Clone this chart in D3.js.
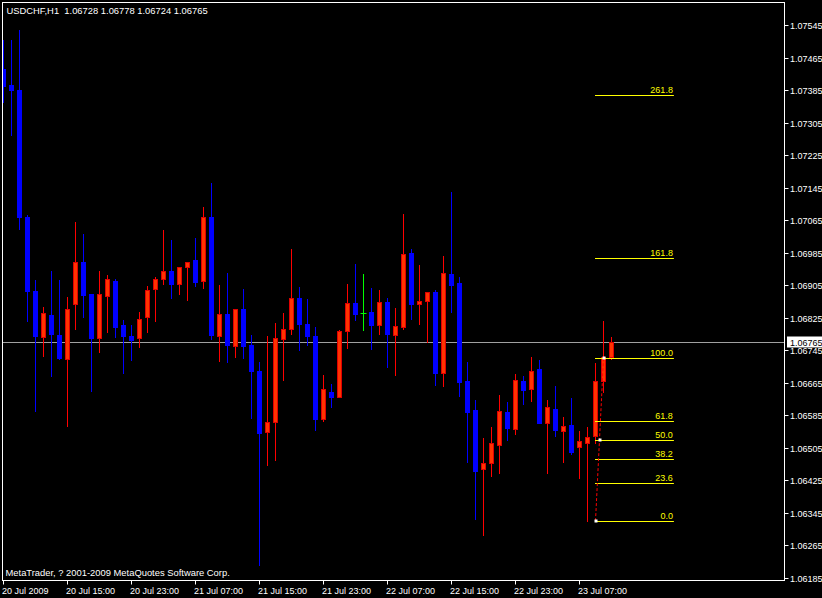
<!DOCTYPE html>
<html><head><meta charset="utf-8">
<script src="https://cdn.jsdelivr.net/npm/d3@7"></script>
<style>
html,body{margin:0;padding:0;background:#000;}
svg{display:block;}
text{font-family:"Liberation Sans",Arial,sans-serif;font-size:9px;white-space:pre;}
</style></head>
<body>
<script>
// ---- data (USDCHF, H1) ----
const symbolTitle = "USDCHF,H1  1.06728 1.06778 1.06724 1.06765";
const copyright = "MetaTrader, ? 2001-2009 MetaQuotes Software Corp.";
const open = [1.07437,1.07397,1.07385,1.07073,1.06891,1.06778,1.06832,1.06783,1.06724,1.06860,
1.06962,1.06883,1.06776,1.06879,1.06915,1.06807,1.06780,1.06776,1.06826,1.06895,
1.06920,1.06940,1.06909,1.06949,1.06967,1.06916,1.07073,1.06781,1.06834,1.06756,
1.06847,1.06759,1.06694,1.06545,1.06569,1.06774,1.06798,1.06874,1.06810,1.06781,
1.06577,1.06643,1.06631,1.06793,1.06861,1.06836,1.06839,1.06808,1.06864,1.06783,
1.06803,1.06984,1.06860,1.06867,1.06888,1.06690,1.06933,1.06911,1.06670,1.06598,
1.06454,1.06469,1.06513,1.06593,1.06552,1.06670,1.06651,1.06699,1.06567,1.06601,
1.06547,1.06561,1.06508,1.06518,1.06533,1.06670,1.06728];
const high = [1.07508,1.07508,1.07533,1.07078,1.06918,1.06852,1.06940,1.06918,1.06876,1.07061,
1.07031,1.06883,1.06940,1.06930,1.06920,1.06820,1.06806,1.06839,1.06903,1.06925,
1.07041,1.07016,1.06950,1.06962,1.07021,1.07097,1.07156,1.06906,1.06935,1.06847,
1.06896,1.06783,1.06717,1.06781,1.06812,1.06837,1.06994,1.06901,1.06871,1.06802,
1.06684,1.06662,1.06795,1.06908,1.06957,1.06933,1.06899,1.06893,1.06874,1.06849,
1.07080,1.06994,1.06955,1.06888,1.06893,1.06977,1.07134,1.06925,1.06717,1.06623,
1.06530,1.06556,1.06635,1.06618,1.06687,1.06682,1.06729,1.06721,1.06623,1.06658,
1.06581,1.06628,1.06547,1.06556,1.06714,1.06817,1.06778];
const low = [1.07356,1.07275,1.07043,1.06817,1.06596,1.06732,1.06683,1.06724,1.06560,1.06798,
1.06828,1.06645,1.06742,1.06791,1.06778,1.06688,1.06722,1.06754,1.06791,1.06818,
1.06909,1.06874,1.06884,1.06869,1.06904,1.06897,1.06774,1.06719,1.06717,1.06729,
1.06727,1.06579,1.06217,1.06463,1.06474,1.06673,1.06786,1.06746,1.06759,1.06549,
1.06572,1.06606,1.06631,1.06751,1.06820,1.06796,1.06749,1.06786,1.06705,1.06685,
1.06798,1.06823,1.06810,1.06766,1.06660,1.06658,1.06840,1.06633,1.06471,1.06331,
1.06291,1.06437,1.06443,1.06524,1.06540,1.06614,1.06621,1.06566,1.06444,1.06535,
1.06471,1.06491,1.06432,1.06324,1.06516,1.06643,1.06724];
const close = [1.07396,1.07385,1.07074,1.06891,1.06781,1.06836,1.06786,1.06727,1.06847,1.06962,
1.06881,1.06776,1.06883,1.06920,1.06803,1.06781,1.06771,1.06821,1.06893,1.06920,
1.06940,1.06909,1.06950,1.06962,1.06914,1.07073,1.06783,1.06834,1.06759,1.06847,
1.06756,1.06695,1.06542,1.06569,1.06775,1.06797,1.06874,1.06810,1.06781,1.06576,
1.06650,1.06630,1.06792,1.06861,1.06835,1.06836,1.06806,1.06864,1.06786,1.06805,
1.06982,1.06860,1.06866,1.06888,1.06690,1.06935,1.06906,1.06668,1.06594,1.06449,
1.06467,1.06517,1.06596,1.06555,1.06672,1.06648,1.06694,1.06567,1.06606,1.06550,
1.06559,1.06496,1.06522,1.06531,1.06669,1.06729,1.06765];
const bidPrice = 1.06765;
const priceTicks = [1.06185,1.06265,1.06345,1.06425,1.06505,1.06585,1.06665,1.06745,1.06825,
1.06905,1.06985,1.07065,1.07145,1.07225,1.07305,1.07385,1.07465,1.07545];
const timeTickIndex = [0,8,16,24,32,40,48,56,64,72];
const timeTickLabels = ["20 Jul 2009","20 Jul 15:00","20 Jul 23:00","21 Jul 07:00","21 Jul 15:00",
"21 Jul 23:00","22 Jul 07:00","22 Jul 15:00","22 Jul 23:00","23 Jul 07:00"];
// Fibonacci retracement
const fibLevels = [0, 23.6, 38.2, 50, 61.8, 100, 161.8, 261.8];
const fibLabels = ["0.0","23.6","38.2","50.0","61.8","100.0","161.8","261.8"];
const fibLowPrice = 1.06325, fibLowIndex = 74;
const fibHighPrice = 1.06725, fibHighIndex = 75;
const fibEndIndex = 83.8;

// ---- drawing ----
const W = 822, H = 598;
const svg = d3.select("body").append("svg").attr("width", W).attr("height", H)
  .style("background", "#000");

const plot = {left: 2.5, top: 2.5, right: 784.5, bottom: 580.5};
const x = d3.scaleLinear().domain([0, open.length - 1]).range([3.5, 3.5 + 8 * (open.length - 1)]);
const y = d3.scaleLinear().domain([1.06185, 1.07545]).range([578, 25]);

svg.append("defs").append("clipPath").attr("id", "clip")
  .append("rect").attr("x", plot.left + 0.5).attr("y", plot.top + 0.5)
  .attr("width", plot.right - plot.left - 1).attr("height", plot.bottom - plot.top - 1);

const g = svg.append("g").attr("clip-path", "url(#clip)");

// bid line
g.append("line").attr("x1", plot.left).attr("x2", plot.right)
  .attr("y1", Math.round(y(bidPrice)) + 0.5).attr("y2", Math.round(y(bidPrice)) + 0.5)
  .attr("stroke", "#a0a0a0").attr("stroke-width", 1);

const bars = d3.range(open.length).map(i => ({i, o: open[i], h: high[i], l: low[i], c: close[i]}));
const colorOf = d => d.c > d.o ? "#ff0000" : (d.c < d.o ? "#0000ff" : "#00ff00");

// wicks
g.selectAll("line.wick").data(bars).join("line").attr("class", "wick")
  .attr("x1", d => x(d.i)).attr("x2", d => x(d.i))
  .attr("y1", d => Math.round(y(d.h))).attr("y2", d => Math.round(y(d.l)) + 1)
  .attr("stroke", colorOf).attr("stroke-width", 1);

// bodies
g.selectAll("rect.body").data(bars.filter(d => d.c !== d.o)).join("rect").attr("class", "body")
  .each(function(d) {
    const top = Math.round(y(Math.max(d.o, d.c)));
    const bot = Math.round(y(Math.min(d.o, d.c)));
    const s = d3.select(this);
    if (d.c > d.o) {
      s.attr("x", x(d.i) - 2).attr("width", 4)
       .attr("y", top + 0.5).attr("height", Math.max(bot - top, 1))
       .attr("fill", "#ff3300").attr("stroke", "#e00000").attr("stroke-width", 1);
    } else {
      s.attr("x", x(d.i) - 2.5).attr("width", 5)
       .attr("y", top).attr("height", Math.max(bot - top + 1, 1))
       .attr("fill", "#0000ff");
    }
  });

// doji crossbars
g.selectAll("line.doji").data(bars.filter(d => d.c === d.o)).join("line").attr("class", "doji")
  .attr("x1", d => x(d.i) - 3).attr("x2", d => x(d.i) + 3)
  .attr("y1", d => Math.round(y(d.o)) + 0.5).attr("y2", d => Math.round(y(d.o)) + 0.5)
  .attr("stroke", "#00ff00").attr("stroke-width", 1);

// Fibonacci levels
const fibPrice = lv => fibLowPrice + lv / 100 * (fibHighPrice - fibLowPrice);
const fibG = g.append("g");
fibLevels.forEach((lv, j) => {
  const yy = Math.round(y(fibPrice(lv))) + 0.5;
  fibG.append("line").attr("x1", x(fibLowIndex) - 0.5).attr("x2", x(fibEndIndex))
    .attr("y1", yy).attr("y2", yy).attr("stroke", "#ffff00").attr("stroke-width", 1);
  fibG.append("text").attr("x", x(fibEndIndex) - 1).attr("y", yy - 2.5)
    .attr("text-anchor", "end").attr("fill", "#ffff00").text(fibLabels[j]);
});
// trend (dashed) line of the fib
fibG.append("line")
  .attr("x1", x(fibLowIndex)).attr("y1", y(fibLowPrice))
  .attr("x2", x(fibHighIndex)).attr("y2", y(fibHighPrice))
  .attr("stroke", "#ff0000").attr("stroke-width", 1).attr("stroke-dasharray", "3,2");
const anchors = [[fibLowIndex, fibLowPrice], [(fibLowIndex + fibHighIndex) / 2, (fibLowPrice + fibHighPrice) / 2], [fibHighIndex, fibHighPrice]];
fibG.selectAll("rect.anchor").data(anchors).join("rect").attr("class", "anchor")
  .attr("x", d => Math.round(x(d[0])) - 1.5).attr("y", d => Math.round(y(d[1])) - 1.5)
  .attr("width", 3).attr("height", 3).attr("fill", "#ffffff");

// frame
svg.append("rect").attr("x", plot.left).attr("y", plot.top)
  .attr("width", plot.right - plot.left).attr("height", plot.bottom - plot.top)
  .attr("fill", "none").attr("stroke", "#ffffff").attr("stroke-width", 1);

// price axis
const pa = svg.append("g");
priceTicks.forEach(p => {
  const yy = Math.round(y(p)) + 0.5;
  pa.append("line").attr("x1", plot.right).attr("x2", plot.right + 4).attr("y1", yy).attr("y2", yy)
    .attr("stroke", "#ffffff");
  pa.append("text").attr("x", 790).attr("y", yy + 3).attr("fill", "#ffffff").text(d3.format(".5f")(p));
});
// bid label
const by = Math.round(y(bidPrice)) + 0.5;
pa.append("rect").attr("x", 787).attr("y", by - 6).attr("width", 36).attr("height", 11).attr("fill", "#ffffff");
pa.append("text").attr("x", 790).attr("y", by + 3).attr("fill", "#000000").text(d3.format(".5f")(bidPrice));

// time axis
const ta = svg.append("g");
timeTickIndex.forEach((ix, j) => {
  const xx = Math.round(x(ix) - 0.5) + 0.5;
  ta.append("line").attr("x1", xx).attr("x2", xx).attr("y1", plot.bottom).attr("y2", plot.bottom + 4)
    .attr("stroke", "#ffffff");
  ta.append("text").attr("x", xx - 1.5).attr("y", 593.5).attr("fill", "#ffffff").text(timeTickLabels[j]);
});

// texts
svg.append("text").attr("x", 6.5).attr("y", 14).attr("fill", "#ffffff").style("font-size", "9.4px").text(symbolTitle);
svg.append("text").attr("x", 5.5).attr("y", 576).attr("fill", "#ffffff").style("font-size", "9.4px").text(copyright);
</script>
</body></html>
